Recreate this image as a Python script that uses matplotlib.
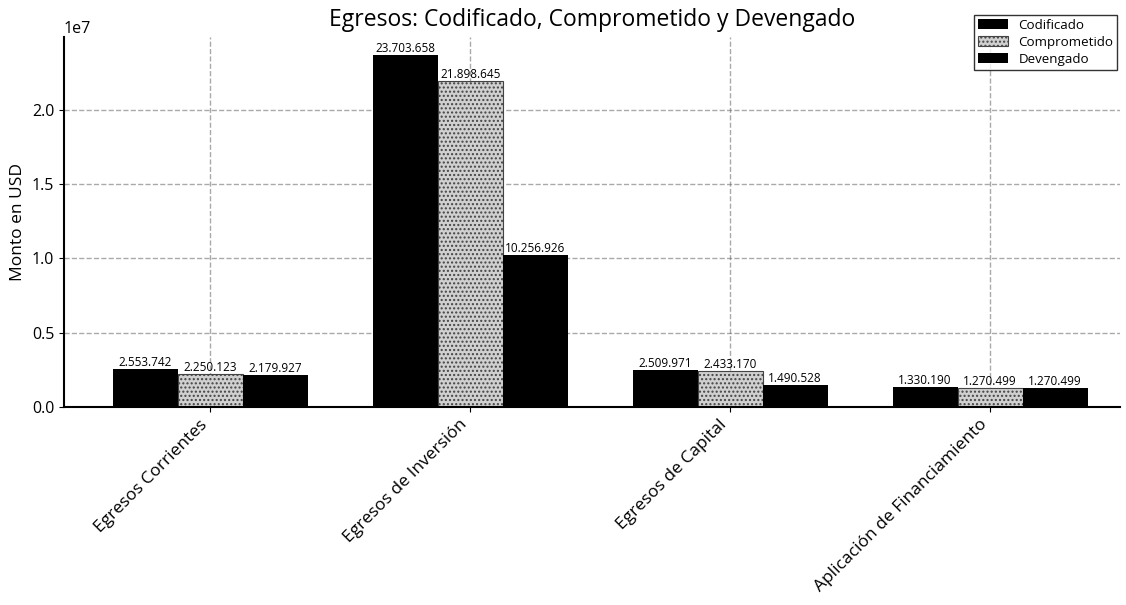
import matplotlib
matplotlib.use("Agg")
import matplotlib.pyplot as plt
import numpy as np

plt.rcParams['font.family'] = ['Open Sans', 'DejaVu Sans']

categories = ["Egresos Corrientes", "Egresos de Inversión", "Egresos de Capital",
              "Aplicación de Financiamiento"]
codificado = [2553742, 23703658, 2509971, 1330190]
comprometido = [2250123, 21898645, 2433170, 1270499]
devengado = [2179927, 10256926, 1490528, 1270499]
series_names = ["Codificado", "Comprometido", "Devengado"]

fig = plt.figure(figsize=(11.26, 6.05), dpi=100)
ax = fig.add_axes([64/1126, 1-407/605, (1120-64)/1126, (407-37)/605])

x = np.arange(len(categories))
w = 0.25
ax.set_axisbelow(True)
ax.grid(True, linestyle='--', color='#555555', alpha=0.5, linewidth=1.0)

b1 = ax.bar(x - w, codificado, w, color='black', label=series_names[0])
b2 = ax.bar(x, comprometido, w, color='#d0d0d0', edgecolor='#444444', hatch='....',
            linewidth=0.8, label=series_names[1])
b3 = ax.bar(x + w, devengado, w, color='black', label=series_names[2])

def fmt(v):
    return f"{v:,}".replace(",", ".")

for bars, vals in ((b1, codificado), (b2, comprometido), (b3, devengado)):
    for bar, v in zip(bars, vals):
        ax.text(bar.get_x() + bar.get_width()/2, v, fmt(v), ha='center', va='bottom',
                fontsize=8.5, color='black')

ax.set_xticks(x)
ax.set_xticklabels(categories, rotation=45, ha='right', fontsize=12.5)
ax.tick_params(axis='y', labelsize=11.5)
ax.set_ylabel("Monto en USD", fontsize=12.5)
ax.set_xlim(-0.5625, 3.5)
ax.set_ylim(0, max(codificado) * 1.05)
ax.spines['top'].set_visible(False)
ax.spines['right'].set_visible(False)
ax.spines['left'].set_linewidth(1.5)
ax.spines['bottom'].set_linewidth(1.5)
ax.yaxis.get_offset_text().set_fontsize(11.5)

ax.set_title("Egresos: Codificado, Comprometido y Devengado", fontsize=16.5, pad=8)
leg = ax.legend(loc='upper right', bbox_to_anchor=(1124/1126, 1-8/605),
                bbox_transform=fig.transFigure, fontsize=9.6, frameon=True,
                fancybox=False, edgecolor='black', labelspacing=0.3,
                handlelength=2.2, borderpad=0.3)

fig.savefig("out.png", dpi=100)
